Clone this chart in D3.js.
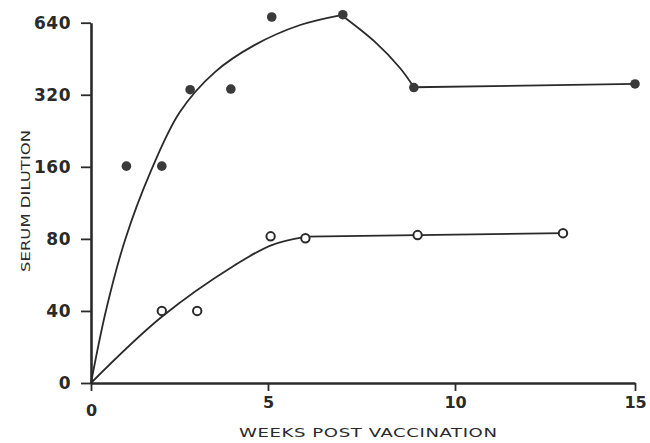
<!DOCTYPE html>
<html lang='en'>
<head>
	<meta charset='utf-8'>
	<title>Serum Dilution</title>
	<script src="https://d3js.org/d3.v7.min.js"></script>
	<style>
		body{margin:0;background:#fff;}
		text{font-family:'DejaVu Sans',sans-serif;fill:#2a2a2a;}
	</style>
</head>
<body>
<div id='chart'></div>
<script type='text/javascript'>
	const svg_block = {width:650,height:443}

	// axis ticks
	const xTickValues = [0,5,10,15];
	const yTickValues = [20,40,80,160,320,640];
	const yTickLabels = ["0","40","80","160","320","640"];

	// filled dots
	const filledWeeks = [1,2,2.8,3.95,5.1,7,8.9,15];
	const filledDilution = [161,161,336,338,676,691,343,355];

	// open dots
	const openWeeks = [2,3,5.07,6,9,13];
	const openDilution = [40,40,82,80.5,83,84.5];

	// hand drawn fit lines
	const upperRiseWeeks = [0,0.42,0.96,1.67,2.51,3.5,4.63,5.86,6.96];
	const upperRiseDilution = [20,40,79,151,271,398,517,626,689];
	const upperFallWeeks = [6.96,7.86,8.53,8.9];
	const upperFallDilution = [689,532,414,344];
	const upperFlatWeeks = [8.9,15];
	const upperFlatDilution = [344,355];
	const lowerRiseWeeks = [0,2.0,4.07,5.1,6.03];
	const lowerRiseDilution = [20,37.8,62.2,75.4,81.8];
	const lowerFlatWeeks = [6.03,9,13];
	const lowerFlatDilution = [81.8,83,84.5];

	let svg = d3.select("#chart")
				.append("svg")
					.attr("width",svg_block.width)
					.attr("height",svg_block.height);

	//scales (x axis of the scan is slightly uneven)
	let x = d3.scaleLinear().domain([0,5,10,15]).range([91,268,455,635]);
	let y = d3.scaleLog().base(2).domain([20,640]).range([383,22.7]);

	let zip = (a,b) => a.map((d,i) => [d,b[i]]);
	let smooth = d3.line().x(d => x(d[0])).y(d => y(d[1])).curve(d3.curveCatmullRom.alpha(0.5));
	let straight = d3.line().x(d => x(d[0])).y(d => y(d[1]));

	//x axis
	let xg = svg.append("g")
			.attr("transform",`translate(0,${y(20)})`)
			.call(d3.axisBottom(x).tickValues(xTickValues).tickSize(8).tickSizeOuter(0).tickPadding(6));
	xg.select(".domain").attr("stroke","#2a2a2a").attr("stroke-width",2.6);
	xg.selectAll(".tick line").attr("stroke","#2a2a2a").attr("stroke-width",1.8);
	xg.selectAll("text").style("font-size","16px").style("font-weight","bold").attr("fill","#2a2a2a");
	xg.selectAll(".tick").filter(d => d === 0).select("text").attr("y",22);

	//y axis
	let yg = svg.append("g")
			.attr("transform",`translate(${x(0)},0)`)
			.call(d3.axisLeft(y).tickValues(yTickValues).tickFormat((d,i) => yTickLabels[i]).tickSize(10).tickSizeOuter(0).tickPadding(10));
	yg.select(".domain").attr("stroke","#2a2a2a").attr("stroke-width",2.6);
	yg.selectAll(".tick line").attr("stroke","#2a2a2a").attr("stroke-width",1.8);
	yg.selectAll("text").style("font-size","17px").style("font-weight","bold").attr("fill","#2a2a2a").style("letter-spacing","0.5px");

	//axis titles (lettering in the scan is wide, so stretch it)
	svg.append("text")
		.attr("transform","translate(368,437) scale(1.45,1)")
		.style("text-anchor","middle")
		.style("font-size","12.5px")
		.attr("textLength",258/1.45)
		.attr("lengthAdjust","spacing")
		.text("WEEKS POST VACCINATION");

	svg.append("text")
		.attr("transform","translate(30,201) rotate(-90) scale(1.26,1)")
		.style("text-anchor","middle")
		.style("font-size","13px")
		.attr("textLength",142/1.26)
		.attr("lengthAdjust","spacing")
		.text("SERUM DILUTION");

	//fit lines
	let lines = [
		[smooth, zip(upperRiseWeeks,upperRiseDilution)],
		[smooth, zip(upperFallWeeks,upperFallDilution)],
		[straight, zip(upperFlatWeeks,upperFlatDilution)],
		[smooth, zip(lowerRiseWeeks,lowerRiseDilution)],
		[straight, zip(lowerFlatWeeks,lowerFlatDilution)]
	];
	lines.forEach(function(l){
		svg.append("path")
			.attr("d",l[0](l[1]))
			.attr("fill","none")
			.attr("stroke","#2a2a2a")
			.attr("stroke-width",1.8);
	});

	//dots
	svg.append("g")
		.selectAll("circle")
		.data(zip(filledWeeks,filledDilution))
		.enter()
		.append("circle")
			.attr("cx",d => x(d[0]))
			.attr("cy",d => y(d[1]))
			.attr("r",4.8)
			.attr("fill","#3a3a3a");

	svg.append("g")
		.selectAll("circle")
		.data(zip(openWeeks,openDilution))
		.enter()
		.append("circle")
			.attr("cx",d => x(d[0]))
			.attr("cy",d => y(d[1]))
			.attr("r",4.2)
			.attr("fill","#fff")
			.attr("stroke","#2a2a2a")
			.attr("stroke-width",2);
</script>
</body>
</html>
